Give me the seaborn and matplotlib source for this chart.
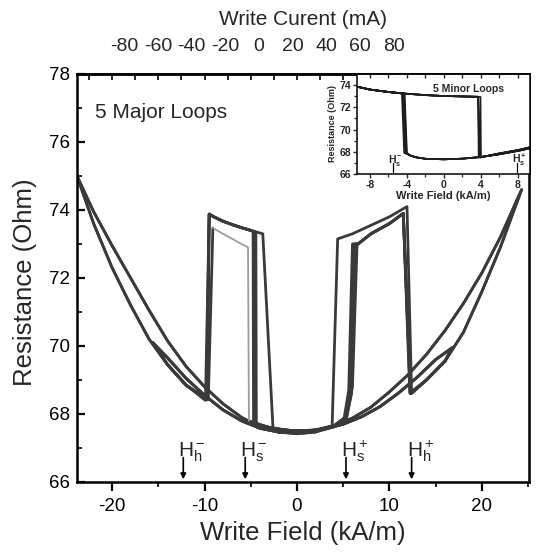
import matplotlib
matplotlib.use("Agg")
import matplotlib.pyplot as plt
import numpy as np
import pandas as pd
import seaborn as sns

# ---------------- data ----------------
# Main panel: branch curves, field H (kA/m) -> resistance R (Ohm)
up_left_H = [-23.8, -22, -20, -18, -16, -14, -12, -10, -8, -6, -4, -2, 0, 2]
up_left_R = [75.0, 73.95, 72.95, 72.0, 71.05, 70.15, 69.4, 68.8, 68.3, 67.9, 67.62, 67.47, 67.42, 67.47]

down_left_H = [-9.9, -12, -14, -16, -18, -20, -22, -23.8]
down_left_R = [68.4, 68.85, 69.45, 70.2, 71.2, 72.3, 73.6, 75.0]

up_right_H = [12.4, 14, 16, 18, 20, 22, 24.3]
up_right_R = [68.6, 69.0, 69.55, 70.4, 71.6, 72.9, 74.6]

down_right_H = [24.3, 22, 20, 18, 16, 14, 12, 10, 8, 6, 4, 2, 0, -2]
down_right_R = [74.6, 73.2, 72.15, 71.25, 70.45, 69.75, 69.15, 68.65, 68.2, 67.88, 67.66, 67.53, 67.5, 67.55]

small_up_left_H = [-15.6, -14, -12, -10, -8, -6, -4, -2, 0, 2]
small_up_left_R = [70.1, 69.65, 69.05, 68.55, 68.12, 67.8, 67.58, 67.47, 67.45, 67.5]

small_down_right_H = [16.8, 15, 13, 11, 9, 7, 5, 3, 1, -1, -3]
small_down_right_R = [69.95, 69.6, 69.08, 68.62, 68.22, 67.92, 67.7, 67.56, 67.5, 67.52, 67.6]

pos_top_out_H = [4.4, 6, 8, 10, 11.9]
pos_top_out_R = [73.15, 73.3, 73.55, 73.8, 74.1]
pos_top_in_H = [6.6, 8, 10, 11.5]
pos_top_in_R = [73.0, 73.3, 73.6, 73.9]

neg_top_H = [-3.7, -5, -6, -7, -8, -9, -9.5]
neg_top_R = [73.3, 73.4, 73.48, 73.57, 73.67, 73.8, 73.88]
neg_top_gray_H = [-5.3, -6, -7, -8, -9.1]
neg_top_gray_R = [72.9, 73.0, 73.15, 73.3, 73.47]

# switching-field markers (main panel)
marker_H = [-12.3, -5.6, 5.3, 12.4]
marker_text = [r"$\mathrm{H_h^-}$", r"$\mathrm{H_s^-}$", r"$\mathrm{H_s^+}$", r"$\mathrm{H_h^+}$"]

# top axis: write current (mA)
current_ticks = [-80, -60, -40, -20, 0, 20, 40, 60, 80]
mA_per_kAm = 5.48
zero_current_H = -4.1

# Inset: 5 minor loops
in_top_H = [-9.35, -8, -6, -4.3, -2, 0, 2, 3.7, 3.95]
in_top_R = [73.85, 73.6, 73.38, 73.24, 73.1, 73.02, 72.98, 72.95, 72.94]
in_low_up_H = [3.9, 6, 8, 9.3]
in_low_up_R = [67.5, 67.85, 68.15, 68.4]
in_low_dn_H = [9.3, 8, 6, 4, 2, 0, -2, -3, -3.6]
in_low_dn_R = [68.32, 68.08, 67.78, 67.53, 67.38, 67.32, 67.37, 67.5, 67.65]
in_pos_switch = [3.7, 3.75, 3.8, 3.9, 3.95]
in_neg_switch = [-4.0, -4.05, -4.1, -4.2, -4.3]
in_marker_H = [-5.5, 7.9]
in_marker_text = [r"$\mathbf{H_s^-}$", r"$\mathbf{H_s^+}$"]


def piece(H, R, lo=-1e9, hi=1e9):
    return [(h, r) for h, r in zip(H, R) if lo <= h <= hi]


# ---------------- assemble loops ----------------
segments = {}
segments["A"] = (piece(up_left_H, up_left_R) + [(3.8, 67.65)]
                 + piece(pos_top_out_H, pos_top_out_R)
                 + piece(up_right_H, up_right_R)
                 + piece(down_right_H, down_right_R) + [(-2.6, 67.6)]
                 + piece(neg_top_H, neg_top_R)
                 + piece(down_left_H, down_left_R), "dark")
segments["B"] = (piece(up_left_H, up_left_R)
                 + [(4.0, 67.62), (5.3, 67.85), (5.9, 68.6), (6.3, 73.0)]
                 + piece(pos_top_in_H, pos_top_in_R) + [(12.2, 68.62)]
                 + piece(up_right_H, up_right_R, lo=13)
                 + piece(down_right_H, down_right_R)
                 + [(-4.4, 67.7), (-4.45, 73.34)]
                 + piece(neg_top_H, neg_top_R, hi=-5) + [(-9.8, 68.42)]
                 + piece(down_left_H, down_left_R, hi=-11), "dark")
segments["C"] = (piece(small_up_left_H, small_up_left_R)
                 + [(4.0, 67.65), (5.2, 67.9), (5.7, 68.7), (6.1, 73.0)]
                 + piece(pos_top_in_H, pos_top_in_R) + [(12.3, 68.6)]
                 + piece(up_right_H, up_right_R, lo=13, hi=16.5)
                 + piece(small_down_right_H, small_down_right_R)
                 + [(-4.7, 67.75), (-4.75, 73.37)]
                 + piece(neg_top_H, neg_top_R, hi=-5) + [(-9.7, 68.42)]
                 + piece(down_left_H, down_left_R, lo=-15, hi=-11) + [(-15.6, 70.1)], "dark")
segments["D1"] = (piece(small_up_left_H, small_up_left_R)
                  + [(4.0, 67.66), (5.4, 67.92), (6.0, 68.8), (6.5, 73.0)]
                  + piece(pos_top_in_H, pos_top_in_R) + [(12.3, 68.6)]
                  + piece(up_right_H, up_right_R, lo=13, hi=16.5)
                  + piece(small_down_right_H, small_down_right_R) + [(-5.2, 67.8)], "dark")
segments["D2"] = ([(-5.2, 67.8)] + piece(neg_top_gray_H, neg_top_gray_R), "light")
segments["D3"] = ([(-9.1, 73.47), (-9.6, 68.42)]
                  + piece(down_left_H, down_left_R, lo=-15, hi=-11) + [(-15.6, 70.1)], "dark")
segments["E"] = (piece(small_up_left_H, small_up_left_R)
                 + [(4.0, 67.64), (5.1, 67.88), (5.6, 68.7), (6.0, 73.0)]
                 + piece(pos_top_in_H, pos_top_in_R) + [(12.25, 68.6)]
                 + piece(up_right_H, up_right_R, lo=13, hi=16.5)
                 + piece(small_down_right_H, small_down_right_R)
                 + [(-4.55, 67.72), (-4.6, 73.36)]
                 + piece(neg_top_H, neg_top_R, hi=-5) + [(-9.75, 68.42)]
                 + piece(down_left_H, down_left_R, lo=-15, hi=-11) + [(-15.6, 70.1)], "dark")

rows = []
for name, (pts, shade) in segments.items():
    for h, r in pts:
        rows.append({"seg": name, "H": h, "R": r, "shade": shade})
df_main = pd.DataFrame(rows)

rows = []
for i, (ps, ns) in enumerate(zip(in_pos_switch, in_neg_switch)):
    pts = (piece(in_top_H, in_top_R, hi=ps) + [(ps + 0.05, 67.5)]
           + piece(in_low_up_H, in_low_up_R)
           + piece(in_low_dn_H, in_low_dn_R, lo=ns + 0.3) + [(ns, 67.9), (ns - 0.25, 73.24)]
           + piece(in_top_H, in_top_R, hi=ns - 0.3)[::-1])
    for h, r in pts:
        rows.append({"seg": f"m{i}", "H": h, "R": r})
df_in = pd.DataFrame(rows)

# ---------------- style ----------------
sns.set_theme(style="ticks")
plt.rcParams["font.family"] = ["Liberation Sans", "DejaVu Sans"]
plt.rcParams["axes.unicode_minus"] = False
plt.rcParams["mathtext.fontset"] = "custom"
plt.rcParams["mathtext.rm"] = "Liberation Sans"
plt.rcParams["mathtext.it"] = "Liberation Sans:italic"
plt.rcParams["mathtext.bf"] = "Liberation Sans:bold"

fig = plt.figure(figsize=(5.36, 5.52), dpi=100)
fig.patch.set_facecolor("white")
ax = fig.add_axes([77 / 536, 1 - 482 / 552, (529 - 77) / 536, (482 - 74) / 552])

sns.lineplot(data=df_main, x="H", y="R", units="seg", estimator=None, sort=False,
             hue="shade", palette={"dark": "#3a3a3a", "light": "#9c9c9c"},
             size="shade", sizes={"dark": 2.0, "light": 1.3},
             legend=False, ax=ax)

ax.set_xlim(-23.8, 25.1)
ax.set_ylim(66, 78)
ax.set_xticks([-20, -10, 0, 10, 20])
ax.set_xticks([-15, -5, 5, 15, 25], minor=True)
ax.set_yticks([66, 68, 70, 72, 74, 76, 78])
ax.set_yticks([67, 69, 71, 73, 75, 77], minor=True)
ax.tick_params(axis="x", which="major", direction="out", length=6.5, width=1.6,
               labelsize=13.5, pad=5, colors="black")
ax.tick_params(axis="x", which="minor", direction="out", length=3.5, width=1.4)
ax.tick_params(axis="y", which="major", direction="in", length=5.5, width=1.6,
               labelsize=13.5, pad=5, colors="black")
ax.tick_params(axis="y", which="minor", direction="in", length=3.5, width=1.4)
for s in ax.spines.values():
    s.set_linewidth(1.8)
    s.set_color("black")
ax.set_xlabel("Write Field (kA/m)", fontsize=18.5)
ax.set_ylabel("Resistance (Ohm)", fontsize=18.5)
ax.xaxis.set_label_coords(0.5, -0.095)
ax.yaxis.set_label_coords(-0.088, 0.49)

# top: fine ticks and write current labels
top_fine = ax.secondary_xaxis("top")
top_fine.set_xticks(np.arange(-22.5, 25, 2.5))
top_fine.tick_params(direction="in", length=4, width=1.4, labeltop=False)
top_fine.spines["top"].set_linewidth(1.8)

secax = ax.secondary_xaxis(
    "top",
    functions=(lambda h: (h - zero_current_H) * mA_per_kAm,
               lambda c: c / mA_per_kAm + zero_current_H))
secax.set_xticks(current_ticks)
secax.set_xticklabels([str(c) for c in current_ticks])
secax.tick_params(length=0, labelsize=14, pad=14)
secax.set_xlabel("Write Curent (mA)", fontsize=15, labelpad=9)

ax.text(-21.85, 76.88, "5 Major Loops", fontsize=15, va="center", ha="left")

for h, t in zip(marker_H, marker_text):
    ax.annotate("", xy=(h, 66.08), xytext=(h, 66.72),
                arrowprops=dict(arrowstyle="-|>", color="black", lw=1.2,
                                mutation_scale=8, shrinkA=0, shrinkB=0))
    ax.text(h - 0.55, 66.76, t, fontsize=15, ha="left", va="baseline")

# ---------------- inset ----------------
axi = fig.add_axes([357 / 536, 1 - 174 / 552, (530 - 357) / 536, (174 - 74) / 552])
axi.set_facecolor("white")
sns.lineplot(data=df_in, x="H", y="R", units="seg", estimator=None, sort=False,
             color="#1e1e1e", lw=1.2, legend=False, ax=axi)
axi.set_xlim(-9.4, 9.3)
axi.set_ylim(66, 75)
axi.set_xticks([-8, -4, 0, 4, 8])
axi.set_xticks([-6, -2, 2, 6], minor=True)
axi.set_yticks([66, 68, 70, 72, 74])
axi.set_yticks([67, 69, 71, 73], minor=True)
axi.tick_params(axis="both", which="major", direction="out", length=3, width=1.0,
                labelsize=7.5, pad=1.5)
axi.tick_params(axis="both", which="minor", direction="out", length=2, width=0.9)
for lab in axi.get_xticklabels() + axi.get_yticklabels():
    lab.set_fontweight("bold")
for s in axi.spines.values():
    s.set_linewidth(1.1)
    s.set_color("black")
itop = axi.secondary_xaxis("top")
itop.set_xticks([-8, -6, -4, -2, 0, 2, 4, 6, 8])
itop.tick_params(direction="in", length=3, width=1.0, labeltop=False)
axi.set_xlabel("Write Field (kA/m)", fontsize=8, fontweight="bold", labelpad=0.5)
axi.set_ylabel("Resistance (Ohm)", fontsize=6.5, fontweight="bold", labelpad=1.5)
axi.text(2.7, 73.65, "5 Minor Loops", fontsize=7.5, fontweight="bold", ha="center", va="center")
for h, t in zip(in_marker_H, in_marker_text):
    axi.plot([h, h], [66.15, 66.95], color="black", lw=0.9)
    axi.text(h - 0.55, 67.0, t, fontsize=7.5, ha="left", va="baseline")

fig.savefig("out.png", dpi=100, facecolor="white")
